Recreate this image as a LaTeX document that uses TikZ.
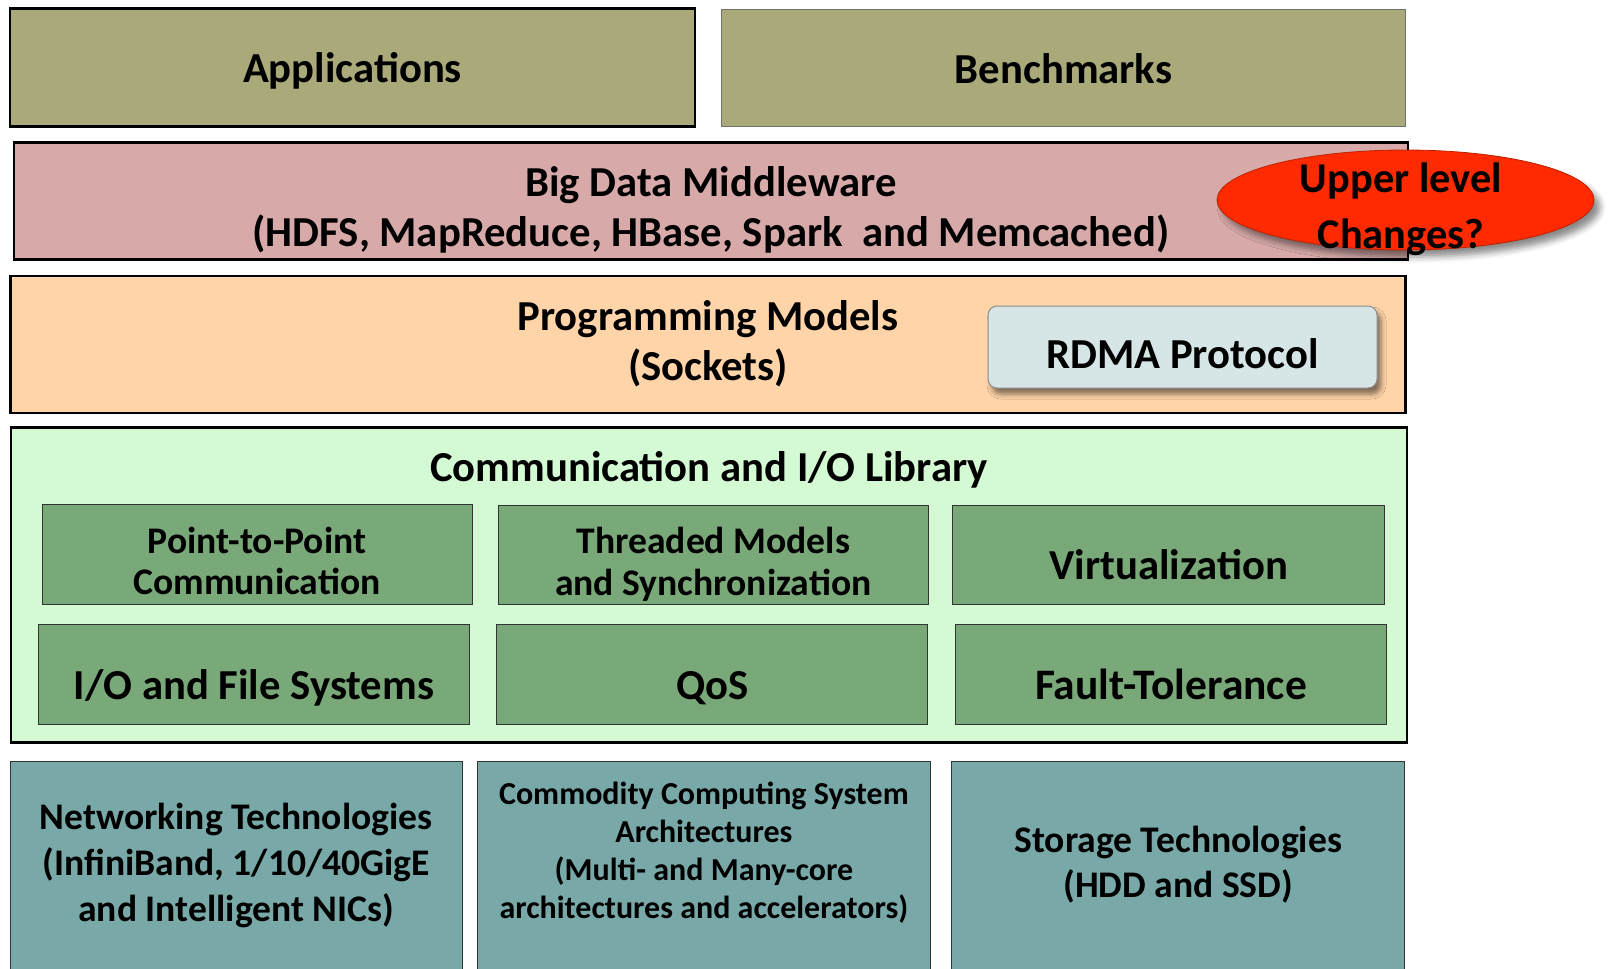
\documentclass[tikz,border=0pt]{standalone}
\usepackage{fontspec}
\setmainfont{Carlito}
\usetikzlibrary{shapes.geometric,shadows.blur}

\definecolor{appfill}{HTML}{A9A97A}
\definecolor{midfill}{HTML}{D7A9A9}
\definecolor{progfill}{HTML}{FFD4A9}
\definecolor{rdmafill}{HTML}{D6E5E5}
\definecolor{libfill}{HTML}{D4FAD4}
\definecolor{subfill}{HTML}{7AA979}
\definecolor{hwfill}{HTML}{78A9A8}
\definecolor{alertfill}{HTML}{FF2A00}
\definecolor{alertline}{HTML}{B82400}

\tikzset{
  heavybox/.style={draw=black, line width=2.5pt, inner sep=0, outer sep=0},
  lightbox/.style={draw=black!80, line width=1pt, inner sep=0, outer sep=0},
  txt/.style={inner sep=0, align=center, anchor=base,
    font=\bfseries\fontsize{#1}{#1}\selectfont},
  txt/.default=42.7,
}

\begin{document}
\begin{tikzpicture}[x=1pt,y=-1pt]
\useasboundingbox (0,0) rectangle (1610,969);
\clip (0,0) rectangle (1610,969);

% top row
\node[heavybox, fill=appfill, minimum width=685, minimum height=118] (app) at (352.5,67.5) {};
\node[lightbox, draw=black!55, fill=appfill, minimum width=684, minimum height=117] (bench) at (1063.5,68) {};
\node[txt] (appT) at (352.5,82) {Applications};
\node[txt] (benchT) at (1063.5,83) {Benchmarks};

% middleware layer
\node[heavybox, fill=midfill, minimum width=1394, minimum height=117] (mid) at (711,201) {};
\node[txt] (midT1) at (711,196.5) {Big Data Middleware};
\node[txt] (midT2) at (711,246) {(HDFS, MapReduce, HBase, Spark~ and Memcached)};

% upper level changes
\node[ellipse, draw=alertline, line width=0.8pt, fill=alertfill,
      minimum width=377, minimum height=100, inner sep=0,
      blur shadow={shadow xshift=6pt, shadow yshift=-7pt, shadow blur radius=6pt, shadow opacity=45}]
      (upper) at (1405.5,200) {};
\node[txt=42.4] (upperT1) at (1401,192.5) {Upper level};
\node[txt=42.4] (upperT2) at (1401,248) {Changes?};

% programming models layer
\node[heavybox, fill=progfill, minimum width=1395, minimum height=137] (prog) at (708,344.5) {};
\node[txt] (progT1) at (708,330) {Programming Models};
\node[txt] (progT2) at (708,380) {(Sockets)};
\node[draw=black!45, line width=1pt, fill=rdmafill, rounded corners=9pt,
      minimum width=389, minimum height=82, inner sep=0,
      blur shadow={shadow xshift=4pt, shadow yshift=-6pt, shadow blur radius=5pt, shadow opacity=50}]
      (rdma) at (1182.5,347) {};
\node[txt] (rdmaT) at (1182.5,368.5) {RDMA Protocol};

% communication and I/O library
\node[heavybox, fill=libfill, minimum width=1396, minimum height=315] (lib) at (709,585) {};
\node[txt] (libT) at (709,481) {Communication and I/O Library};

\node[lightbox, fill=subfill, minimum width=430, minimum height=100] (p2p) at (257,554.6) {};
\node[lightbox, fill=subfill, minimum width=430.5, minimum height=99.5] (thr) at (713.3,555) {};
\node[lightbox, fill=subfill, minimum width=431.8, minimum height=99.5] (virt) at (1168.7,554.8) {};
\node[lightbox, fill=subfill, minimum width=430.7, minimum height=99.5] (io) at (253.9,674.5) {};
\node[lightbox, fill=subfill, minimum width=430.8, minimum height=99.5] (qos) at (712.3,674.5) {};
\node[lightbox, fill=subfill, minimum width=431.2, minimum height=99.5] (ft) at (1171,674.5) {};

\node[txt=37.6] (p2pT1) at (257,553.6) {Point-to-Point};
\node[txt=37.6] (p2pT2) at (257,594.5) {Communication};
\node[txt=37.6] (thrT1) at (713.3,553.6) {Threaded Models};
\node[txt=37.6] (thrT2) at (713.3,595) {and Synchronization};
\node[txt] (virtT) at (1168.7,579.5) {Virtualization};
\node[txt] (ioT) at (253.9,699.6) {I/O and File Systems};
\node[txt] (qosT) at (712.3,699.6) {QoS};
\node[txt=43.5] (ftT) at (1171,699.6) {Fault-Tolerance};

% hardware layer
\node[lightbox, fill=hwfill, minimum width=451.7, minimum height=240] (net) at (236.2,881.4) {};
\node[lightbox, fill=hwfill, minimum width=452.9, minimum height=240] (cpu) at (703.9,881.4) {};
\node[lightbox, fill=hwfill, minimum width=452.8, minimum height=240] (sto) at (1178.2,881.4) {};

\node[txt=37.6] (netT1) at (236.2,829.5) {Networking Technologies};
\node[txt=37.6] (netT2) at (236.2,875.5) {(InfiniBand, 1/10/40GigE};
\node[txt=37.6] (netT3) at (236.2,921.5) {and Intelligent NICs)};
\node[txt=32] (cpuT1) at (703.9,804.5) {Commodity Computing System};
\node[txt=32] (cpuT2) at (703.9,842) {Architectures};
\node[txt=32] (cpuT3) at (703.9,880) {(Multi- and Many-core};
\node[txt=32] (cpuT4) at (703.9,918.2) {architectures and accelerators)};
\node[txt=37.6] (stoT1) at (1178.2,852.8) {Storage Technologies};
\node[txt=37.6] (stoT2) at (1178.2,897.2) {(HDD and SSD)};
\end{tikzpicture}
\end{document}
